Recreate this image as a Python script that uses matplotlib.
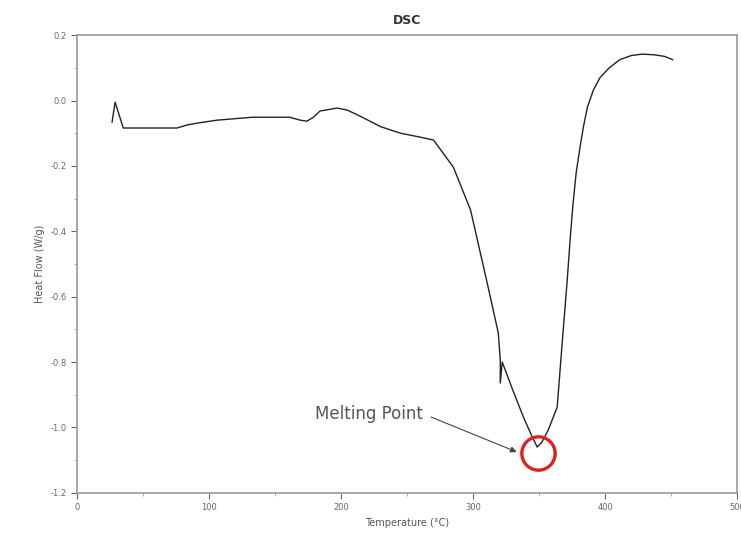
import matplotlib.pyplot as plt
import numpy as np

# DSC trace
temp = [26.5, 28.8, 35, 75.7, 83, 91, 106, 133, 161, 169, 174, 179, 184, 197, 204.5,
        213, 230, 245, 260, 270, 285, 298, 310.6, 319, 320.5, 320.5, 322, 330, 338,
        344.7, 348.5, 352, 356.8, 363.6, 368, 371, 373.5, 375.5, 378, 381, 383.5,
        386.5, 391, 396, 403, 411, 420, 428, 437, 445, 451]
heat = [-0.066, -0.005, -0.084, -0.084, -0.075, -0.069, -0.06, -0.051, -0.051, -0.06,
        -0.063, -0.051, -0.032, -0.023, -0.029, -0.045, -0.08, -0.10, -0.112, -0.121,
        -0.204, -0.335, -0.558, -0.711, -0.794, -0.864, -0.80, -0.886, -0.968, -1.029,
        -1.06, -1.045, -1.008, -0.938, -0.71, -0.56, -0.42, -0.32, -0.22, -0.14, -0.08,
        -0.02, 0.032, 0.07, 0.10, 0.125, 0.138, 0.142, 0.14, 0.135, 0.125]

melt_t, melt_h = 349.2, -1.078

fig = plt.figure(figsize=(7.41, 5.41), dpi=100)
ax = fig.add_axes([0.104, 0.089, 0.891, 0.846])

ax.plot(temp, heat, color='#222222', lw=1.0)
ax.plot([melt_t], [melt_h], 'o', ms=24, mfc='none', mec='#e02020', mew=2.4)
ax.text(221, -0.96, 'Melting Point', fontsize=12, color='#555555',
        ha='center', va='center')
ax.annotate('', xy=(333, -1.075), xytext=(268, -0.968),
            arrowprops=dict(arrowstyle='-|>', color='#444444', lw=0.8,
                            shrinkA=0, shrinkB=0, mutation_scale=9))

ax.set_xlim(0, 500)
ax.set_ylim(-1.2, 0.2)
ax.set_xticks([0, 100, 200, 300, 400, 500])
ax.set_xticks(np.arange(50, 500, 100), minor=True)
ax.set_yticks([-1.2, -1.0, -0.8, -0.6, -0.4, -0.2, 0.0, 0.2])
ax.set_yticks(np.arange(-1.1, 0.2, 0.2), minor=True)
ax.set_yticklabels(['-1.2', '-1.0', '-0.8', '-0.6', '-0.4', '-0.2', '0.0', '0.2'])
ax.tick_params(labelsize=6, colors='#666666', length=4, width=0.8)
ax.tick_params(which='minor', length=2, width=0.6, colors='#999999')
for s in ax.spines.values():
    s.set_color('#999999')
    s.set_linewidth(1.2)

ax.set_xlabel('Temperature (\u00b0C)', fontsize=7, color='#555555')
ax.set_ylabel('Heat Flow (W/g)', fontsize=7, color='#555555')
ax.set_title('DSC', fontsize=9, fontweight='bold', color='#333333', pad=8)

fig.savefig('out.png', dpi=100)
